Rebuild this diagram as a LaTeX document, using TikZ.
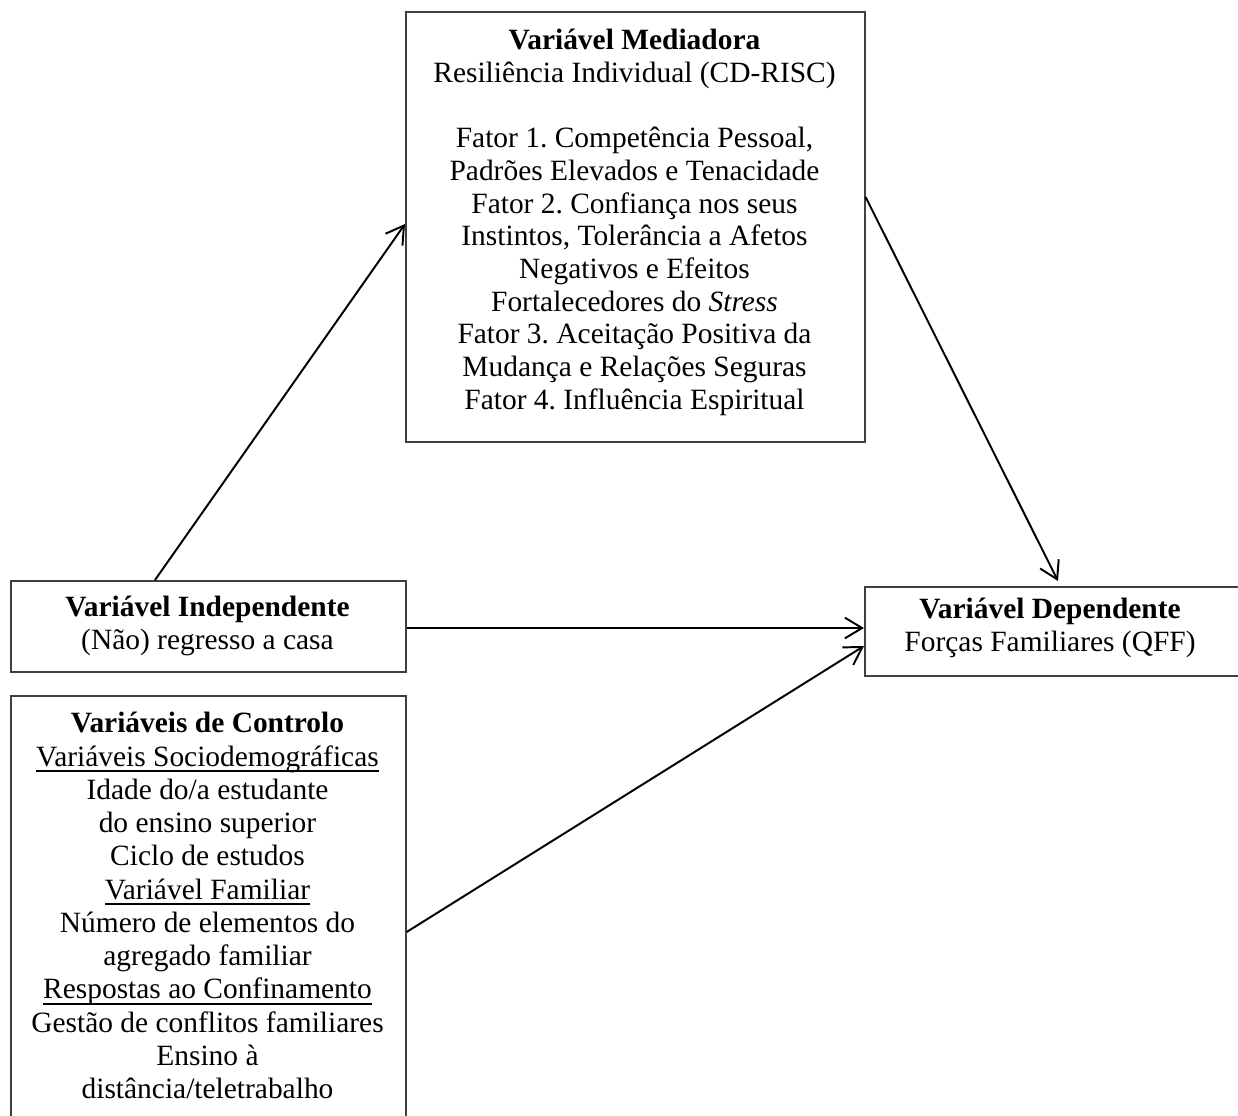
\documentclass[tikz,border=0pt]{standalone}
\usepackage{fontspec}
\setmainfont{Liberation Serif}
\usetikzlibrary{arrows.meta,calc}
\newcommand{\pxl}{0.4348pt}
\newcommand{\myul}[1]{\setbox0\hbox{#1}\leavevmode\rlap{\rule[-2.6pt]{\wd0}{0.75pt}}\box0}
\tikzset{
  box/.style={draw=black!75, line width=0.7pt, inner sep=0pt, anchor=north west},
  txt/.style={align=center, inner sep=0pt, anchor=north, font=\fontsize{12.8}{14.2}\selectfont\frenchspacing},
  conn/.style={line width=0.85pt, -{Straight Barb[length=7.5pt,width=9pt,line width=0.85pt]}}
}
\begin{document}
\begin{tikzpicture}[x=\pxl, y=-\pxl]
\useasboundingbox (0,0) rectangle (1238,1115);
\clip (0,0) rectangle (1238,1115);
% boxes
\node[box, minimum width=459*\pxl, minimum height=430*\pxl] (med) at (405,11) {};
\node[box, minimum width=395*\pxl, minimum height=91*\pxl] (iv) at (10,580) {};
\node[box, minimum width=395*\pxl, minimum height=460*\pxl] (ctl) at (10,695) {};
\node[box, minimum width=400*\pxl, minimum height=89*\pxl] (dv) at (864,586) {};
% texts
\node[txt] (medtxt) at (634.5,29) {\textbf{Variável Mediadora}\\
Resiliência Individual (CD-RISC)\\[14.2pt]
Fator 1. Competência Pessoal,\\
Padrões Elevados e Tenacidade\\
Fator 2. Confiança nos seus\\
Instintos, Tolerância a Afetos\\
Negativos e Efeitos\\
Fortalecedores do \textit{Stress}\\
Fator 3. Aceitação Positiva da\\
Mudança e Relações Seguras\\
Fator 4. Influência Espiritual};
\node[txt] (ivtxt) at (207.5,596) {\textbf{Variável Independente}\\(Não) regresso a casa};
\node[txt, font=\fontsize{12.8}{14.45}\selectfont\frenchspacing] (ctltxt) at (207.5,712) {\textbf{Variáveis de Controlo}\\
\myul{Variáveis Sociodemográficas}\\
Idade do/a estudante\\
do ensino superior\\
Ciclo de estudos\\
\myul{Variável Familiar}\\
Número de elementos do\\
agregado familiar\\
\myul{Respostas ao Confinamento}\\
Gestão de conflitos familiares\\
Ensino à\\
distância/teletrabalho};
\node[txt] (dvtxt) at (1050,598) {\textbf{Variável Dependente}\\Forças Familiares (QFF)};
% connectors
\draw[conn] ($(iv.north west)+(145,0)$) -- ($(med.north west)+(0,213)$);
\draw[conn] ($(med.north east)+(0,186)$) -- ($(dv.north west)+(194,-5)$);
\draw[conn] ($(iv.north east)+(0,48)$) -- ($(dv.north west)+(0,42)$);
\draw[conn] ($(ctl.north east)+(0,237)$) -- ($(dv.north west)+(0,60)$);
\end{tikzpicture}
\end{document}
